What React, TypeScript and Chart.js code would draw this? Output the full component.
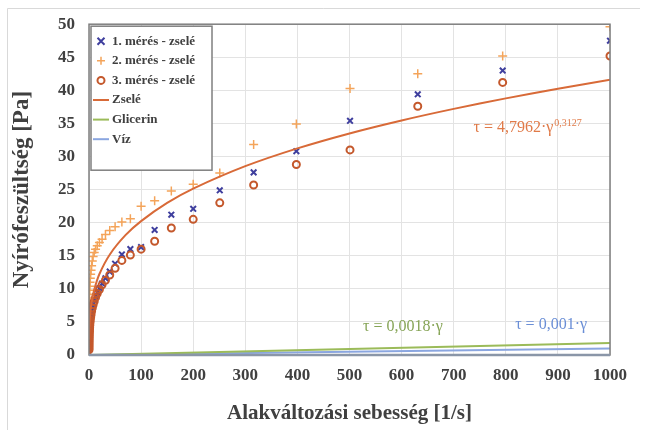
import React, { useEffect, useRef } from "react";
import { Chart, registerables } from "chart.js";

Chart.register(...registerables);

// ---- data ----
const shearRates = [
  0.1, 0.126, 0.158, 0.2, 0.251, 0.316, 0.398, 0.501, 0.631, 0.794,
  1, 1.26, 1.58, 2, 2.51, 3.16, 3.98, 5.01, 6.31, 7.94,
  10, 12.6, 15.8, 20, 25.1, 31.6, 39.8, 50.1, 63.1, 79.4,
  100, 126, 158, 200, 251, 316, 398, 501, 631, 794, 1000,
];
const meres1 = [
  1.0, 1.3, 1.6, 1.9, 2.2, 2.5, 2.8, 3.1, 3.4, 3.7,
  4.0, 4.3, 4.6, 5.0, 5.4, 5.8, 6.2, 6.7, 7.2, 7.7,
  8.3, 8.9, 9.5, 10.1, 10.8, 11.6, 12.6, 13.8, 15.2, 16.0,
  16.3, 18.9, 21.2, 22.1, 24.9, 27.6, 30.8, 35.4, 39.4, 43.0, 47.5,
];
const meres2 = [
  3.5, 4.0, 4.5, 5.0, 5.6, 6.2, 6.8, 7.4, 8.0, 8.6,
  9.2, 9.8, 10.4, 11.0, 11.6, 12.2, 12.8, 13.5, 14.2, 14.9,
  15.5, 16.0, 16.5, 17.0, 17.5, 18.2, 18.8, 19.4, 20.1, 20.6,
  22.5, 23.3, 24.8, 25.8, 27.5, 31.8, 34.9, 40.3, 42.5, 45.2, 49.6,
];
const meres3 = [
  0.8, 1.1, 1.4, 1.7, 2.0, 2.3, 2.6, 2.9, 3.2, 3.5,
  3.8, 4.1, 4.5, 4.9, 5.3, 5.7, 6.1, 6.6, 7.1, 7.6,
  8.1, 8.7, 9.3, 9.9, 10.6, 11.3, 12.1, 13.1, 14.3, 15.1,
  16.0, 17.2, 19.2, 20.5, 23.0, 25.7, 28.8, 31.0, 37.6, 41.2, 45.2,
];
const trendX = [0.1, 0.2, 0.5, 1, 2, 3, 5, 10, 20, 40, 70, 100, 150, 200, 300, 400, 500, 600, 700, 800, 900, 1000];
const trendZsele = [2.34, 2.9, 3.86, 4.8, 5.96, 6.76, 7.93, 9.85, 12.24, 15.2, 18.11, 20.24, 22.98, 25.15, 28.54, 31.23, 33.49, 35.45, 37.2, 38.79, 40.25, 41.6];
const lineX = [0, 1000];
const glicerin = [0, 1.8];
const viz = [0, 1.0];

const seriesLabels = ["1. mérés - zselé", "2. mérés - zselé", "3. mérés - zselé", "Zselé", "Glicerin", "Víz"];
const eqZsele = "τ = 4,7962·γ";
const eqZseleExp = "0,3127";
const eqGlicerin = "τ = 0,0018·γ";
const eqViz = "τ = 0,001·γ";
const xTitle = "Alakváltozási sebesség [1/s]";
const yTitle = "Nyírófeszültség [Pa]";

// ---- styles ----
const C1 = "#3f3f9e";
const C2 = "#f4a45a";
const C3 = "#c4582c";
const CZ = "#d86a38";
const CG = "#9bbb59";
const CV = "#8aa6e0";
const SERIF = '"Liberation Serif", "DejaVu Serif", serif';

function pts(xs: number[], ys: number[]) {
  return xs.map((x, i) => ({ x, y: ys[i] }));
}

function drawMarker(ctx: CanvasRenderingContext2D, kind: string, x: number, y: number, color: string) {
  ctx.save();
  ctx.strokeStyle = color;
  ctx.lineWidth = 2;
  ctx.beginPath();
  if (kind === "x") {
    ctx.moveTo(x - 3.5, y - 3.5); ctx.lineTo(x + 3.5, y + 3.5);
    ctx.moveTo(x + 3.5, y - 3.5); ctx.lineTo(x - 3.5, y + 3.5);
  } else if (kind === "+") {
    ctx.lineWidth = 1.5;
    ctx.moveTo(x - 4, y); ctx.lineTo(x + 4, y);
    ctx.moveTo(x, y - 4); ctx.lineTo(x, y + 4);
  } else if (kind === "o") {
    ctx.arc(x, y, 3.5, 0, Math.PI * 2);
  } else {
    ctx.lineWidth = 2;
    ctx.moveTo(x - 8, y); ctx.lineTo(x + 8, y);
  }
  ctx.stroke();
  ctx.restore();
}

const decorPlugin = {
  id: "decor",
  beforeDraw(chart: any) {
    const ctx = chart.ctx as CanvasRenderingContext2D;
    ctx.save();
    ctx.fillStyle = "#ffffff";
    ctx.fillRect(0, 0, chart.width, chart.height);
    ctx.strokeStyle = "#d9d9d9";
    ctx.lineWidth = 1;
    ctx.beginPath();
    ctx.moveTo(7.5, 430);
    ctx.lineTo(7.5, 8.5);
    ctx.lineTo(640, 8.5);
    ctx.stroke();
    ctx.restore();
  },
  afterDraw(chart: any) {
    const ctx = chart.ctx as CanvasRenderingContext2D;
    const a = chart.chartArea;
    const xs = chart.scales.x;
    const ys = chart.scales.y;
    ctx.save();
    // plot border
    ctx.strokeStyle = "#7f7f7f";
    ctx.lineWidth = 1.5;
    ctx.strokeRect(a.left, a.top, a.right - a.left, a.bottom - a.top);
    ctx.strokeStyle = "#8a96a8";
    ctx.lineWidth = 2.5;
    ctx.beginPath();
    ctx.moveTo(a.left, a.bottom);
    ctx.lineTo(a.right, a.bottom);
    ctx.stroke();

    // legend
    const lx = a.left + 2;
    const ly = a.top + 2;
    const lw = 121;
    const lh = 144;
    ctx.fillStyle = "#ffffff";
    ctx.fillRect(lx, ly, lw, lh);
    ctx.strokeStyle = "#7f7f7f";
    ctx.lineWidth = 1.5;
    ctx.strokeRect(lx, ly, lw, lh);
    const kinds = ["x", "+", "o", "line", "line", "line"];
    const cols = [C1, C2, C3, CZ, CG, CV];
    ctx.font = `bold 13px ${SERIF}`;
    ctx.textBaseline = "middle";
    ctx.textAlign = "left";
    seriesLabels.forEach((lab, i) => {
      const yy = ly + 15 + i * 19.6;
      drawMarker(ctx, kinds[i], lx + 10, yy, cols[i]);
      ctx.fillStyle = "#404040";
      ctx.fillText(lab, lx + 21, yy);
    });

    // equations
    ctx.textBaseline = "middle";
    ctx.font = `16px ${SERIF}`;
    ctx.fillStyle = "#e07a48";
    const ex = xs.getPixelForValue(738);
    const ey = ys.getPixelForValue(34.3);
    ctx.fillText(eqZsele, ex, ey);
    const w = ctx.measureText(eqZsele).width;
    ctx.font = `10px ${SERIF}`;
    ctx.fillText(eqZseleExp, ex + w + 1, ey - 5);

    ctx.font = `16px ${SERIF}`;
    ctx.fillStyle = "#86a456";
    ctx.fillText(eqGlicerin, xs.getPixelForValue(526), ys.getPixelForValue(4.2));
    ctx.fillStyle = "#6a8ed6";
    ctx.fillText(eqViz, xs.getPixelForValue(818), ys.getPixelForValue(4.6));
    ctx.restore();
  },
};

export default function App() {
  const ref = useRef<HTMLCanvasElement | null>(null);
  useEffect(() => {
    if (!ref.current) return;
    const chart = new Chart(ref.current, {
      type: "scatter",
      data: {
        datasets: [
          {
            label: seriesLabels[3],
            type: "line",
            data: pts(trendX, trendZsele),
            borderColor: CZ,
            borderWidth: 2,
            pointRadius: 0,
            tension: 0.3,
            order: 0,
          } as any,
          {
            label: seriesLabels[0],
            data: pts(shearRates, meres1),
            pointStyle: "crossRot",
            pointRadius: 4,
            borderColor: C1,
            backgroundColor: C1,
            pointBorderWidth: 2,
            order: 2,
          },
          {
            label: seriesLabels[1],
            data: pts(shearRates, meres2),
            pointStyle: "cross",
            pointRadius: 4.5,
            borderColor: C2,
            backgroundColor: C2,
            pointBorderWidth: 1.5,
            order: 3,
          },
          {
            label: seriesLabels[2],
            data: pts(shearRates, meres3),
            pointStyle: "circle",
            pointRadius: 3.5,
            borderColor: C3,
            backgroundColor: "rgba(0,0,0,0)",
            pointBorderWidth: 2,
            order: 1,
          },
          {
            label: seriesLabels[4],
            type: "line",
            data: pts(lineX, glicerin),
            borderColor: CG,
            borderWidth: 2,
            pointRadius: 0,
            order: 0,
          } as any,
          {
            label: seriesLabels[5],
            type: "line",
            data: pts(lineX, viz),
            borderColor: CV,
            borderWidth: 2,
            pointRadius: 0,
            order: 0,
          } as any,
        ],
      },
      options: {
        responsive: false,
        animation: false,
        layout: { padding: { left: 8, top: 20, right: 36, bottom: 4 } },
        plugins: {
          legend: { display: false },
          tooltip: { enabled: false },
        },
        scales: {
          x: {
            type: "linear",
            min: 0,
            max: 1000,
            ticks: {
              stepSize: 100,
              color: "#404040",
              font: { family: SERIF, size: 17, weight: "bold" },
              padding: 10,
              callback: (v: any) => String(v),
            },
            grid: { color: "#e3e3e3", tickLength: 0 },
            border: { display: false },
            title: { display: true, text: xTitle, color: "#404040", font: { family: SERIF, size: 21, weight: "bold" }, padding: { top: 10, bottom: 0 } },
            afterFit: (s: any) => { s.height = 71; },
          },
          y: {
            type: "linear",
            min: 0,
            max: 50,
            ticks: {
              stepSize: 5,
              color: "#404040",
              font: { family: SERIF, size: 17, weight: "bold" },
              padding: 14,
              callback: (v: any) => String(v),
            },
            grid: { color: "#e3e3e3", tickLength: 0 },
            border: { display: false },
            title: { display: true, text: yTitle, color: "#404040", font: { family: SERIF, size: 23, weight: "bold" }, padding: { top: 0, bottom: 0 } },
            afterFit: (s: any) => { s.width = 81; },
          },
        },
      },
      plugins: [decorPlugin],
    });
    return () => chart.destroy();
  }, []);
  return (
    <div style={{ position: "fixed", left: 0, top: 0, width: 646, height: 430, background: "#fff" }}>
      <canvas ref={ref} width={646} height={430} style={{ display: "block" }} />
    </div>
  );
}
